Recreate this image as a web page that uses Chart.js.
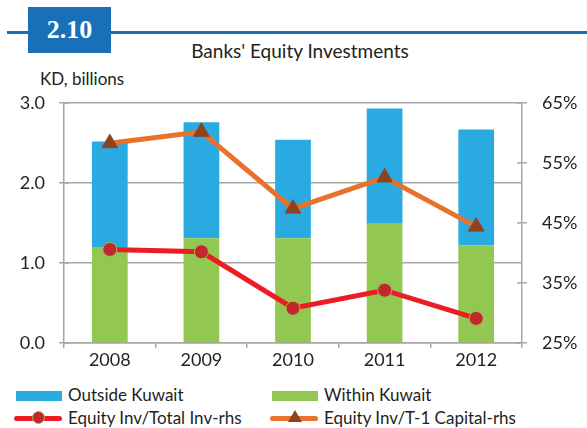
<!DOCTYPE html>
<html>
<head>
<meta charset="utf-8">
<script src="https://cdn.jsdelivr.net/npm/chart.js@4.4.0/dist/chart.umd.min.js"></script>
<style>
  body { margin: 0; background: #fff; width: 587px; height: 428px; overflow: hidden; position: relative; font-family: Lato, "Open Sans", sans-serif; color: #231f20; }
  .rule { position: absolute; left: 7px; top: 31px; width: 580px; height: 3px; background: #1a70b8; }
  .badge { position: absolute; left: 28px; top: 7px; width: 83px; height: 46px; background: #1a70b8; color: #fff; font: bold 26px "Liberation Serif", serif; text-align: center; line-height: 46px; }
  .title { position: absolute; left: 0; width: 600px; top: 39px; text-align: center; font-size: 19px; }
  .unit { position: absolute; left: 40px; top: 68px; font-size: 17px; }
  #wrap { position: absolute; left: 0; top: 90px; width: 587px; height: 282px; }
  .leg { position: absolute; font-size: 17px; white-space: nowrap; }
  .box { position: absolute; width: 46px; height: 10px; }
  .ln { position: absolute; width: 48px; height: 5px; border-radius: 3px; }
</style>
</head>
<body>
<div class="rule"></div>
<div class="badge">2.10</div>
<div class="title">Banks' Equity Investments</div>
<div class="unit">KD, billions</div>
<div id="wrap"><canvas id="grafico"></canvas></div>

<div class="box" style="left:16px;top:391px;background:#29abe2"></div>
<div class="leg" style="left:68px;top:384px">Outside Kuwait</div>
<div class="box" style="left:272px;top:391px;background:#92c852"></div>
<div class="leg" style="left:324px;top:384px">Within Kuwait</div>

<div class="ln" style="left:14px;top:416px;background:#ed1c24"></div>
<div style="position:absolute;left:32px;top:411px;width:13px;height:13px;border-radius:50%;background:#c1272d;border:1px solid #9cbf4a;box-sizing:border-box"></div>
<div class="leg" style="left:68px;top:407px">Equity Inv/Total Inv-rhs</div>
<div class="ln" style="left:270px;top:416px;background:#e8722a"></div>
<div style="position:absolute;left:288px;top:410px;width:0;height:0;border-left:7px solid transparent;border-right:7px solid transparent;border-bottom:12px solid #8e4220"></div>
<div class="leg" style="left:324px;top:407px">Equity Inv/T-1 Capital-rhs</div>

<script>
const years = ["2008", "2009", "2010", "2011", "2012"];
const withinKuwait = [1.20, 1.31, 1.31, 1.49, 1.22];
const outsideKuwait = [1.32, 1.45, 1.23, 1.44, 1.45];
const equityTotalInv = [40.6, 40.2, 30.8, 33.8, 29.1];
const equityT1Capital = [58.3, 60.2, 47.4, 52.6, 44.4];
const leftTicks = [0, 1, 2, 3];
const rightTicks = [25, 35, 45, 55, 65];

const axisGray = "#a6a6a6";
const tickFont = { family: "Lato", size: 18 };

// small tick marks drawn across the axis lines, like the original
const crossTicks = {
    id: "crossTicks",
    afterDatasetsDraw(chart) {
        const ctx = chart.ctx;
        const { y, y1 } = chart.scales;
        ctx.save();
        ctx.strokeStyle = axisGray;
        ctx.lineWidth = 1.5;
        ctx.beginPath();
        y.ticks.forEach((t) => {
            const py = y.getPixelForValue(t.value);
            ctx.moveTo(y.right, py);
            ctx.lineTo(y.right + 5, py);
        });
        y1.ticks.forEach((t) => {
            const py = y1.getPixelForValue(t.value);
            ctx.moveTo(y1.left - 5, py);
            ctx.lineTo(y1.left, py);
        });
        ctx.stroke();
        ctx.restore();
    },
};

function fixWidth(w) {
    return (s) => {
        s.width = w;
        s.paddingTop = 0;
        s.paddingBottom = 0;
    };
}

new Chart(document.getElementById("grafico"), {
    type: "bar",
    data: {
        labels: years,
        datasets: [
            {
                type: "line",
                label: "Equity Inv/Total Inv-rhs",
                data: equityTotalInv,
                yAxisID: "y1",
                borderColor: "#ed1c24",
                borderWidth: 5,
                pointRadius: 7,
                pointBackgroundColor: "#c1272d",
                pointBorderColor: "#9cbf4a",
                pointBorderWidth: 1,
                order: 1,
            },
            {
                type: "line",
                label: "Equity Inv/T-1 Capital-rhs",
                data: equityT1Capital,
                yAxisID: "y1",
                borderColor: "#e8722a",
                borderWidth: 5,
                pointStyle: "triangle",
                pointRadius: 9,
                pointBackgroundColor: "#8e4220",
                pointBorderColor: "#8e4220",
                pointBorderWidth: 1,
                order: 0,
            },
            {
                label: "Within Kuwait",
                data: withinKuwait,
                backgroundColor: "#92c852",
                stack: "s",
                order: 2,
                categoryPercentage: 1,
                barPercentage: 0.39,
            },
            {
                label: "Outside Kuwait",
                data: outsideKuwait,
                backgroundColor: "#29abe2",
                stack: "s",
                order: 3,
                categoryPercentage: 1,
                barPercentage: 0.39,
            },
        ],
    },
    options: {
        responsive: true,
        maintainAspectRatio: false,
        animation: false,
        layout: { padding: { top: 13, left: 0, right: 0, bottom: 0 } },
        plugins: { legend: { display: false }, tooltip: { enabled: false } },
        scales: {
            x: {
                stacked: true,
                grid: { drawOnChartArea: false, color: axisGray, lineWidth: 1.5, tickLength: 5, offset: true },
                border: { color: axisGray, width: 1.5 },
                ticks: { color: "#231f20", font: tickFont, padding: 1 },
                afterFit: (s) => { s.height = 29; },
            },
            y: {
                stacked: true,
                position: "left",
                min: 0,
                max: 3,
                afterBuildTicks: (s) => { s.ticks = leftTicks.map((v) => ({ value: v })); },
                grid: { color: axisGray, lineWidth: 1.5, tickLength: 5 },
                border: { color: axisGray, width: 1.5 },
                ticks: { color: "#231f20", font: tickFont, padding: 14, callback: (v) => v.toFixed(1) },
                afterFit: fixWidth(64),
            },
            y1: {
                position: "right",
                min: 25,
                max: 65,
                afterBuildTicks: (s) => { s.ticks = rightTicks.map((v) => ({ value: v })); },
                grid: { drawOnChartArea: false, color: axisGray, lineWidth: 1.5, tickLength: 5 },
                border: { color: axisGray, width: 1.5 },
                ticks: { color: "#231f20", font: tickFont, padding: 15, callback: (v) => v + "%" },
                afterFit: fixWidth(65),
            },
        },
    },
    plugins: [crossTicks],
});
</script>
</body>
</html>
